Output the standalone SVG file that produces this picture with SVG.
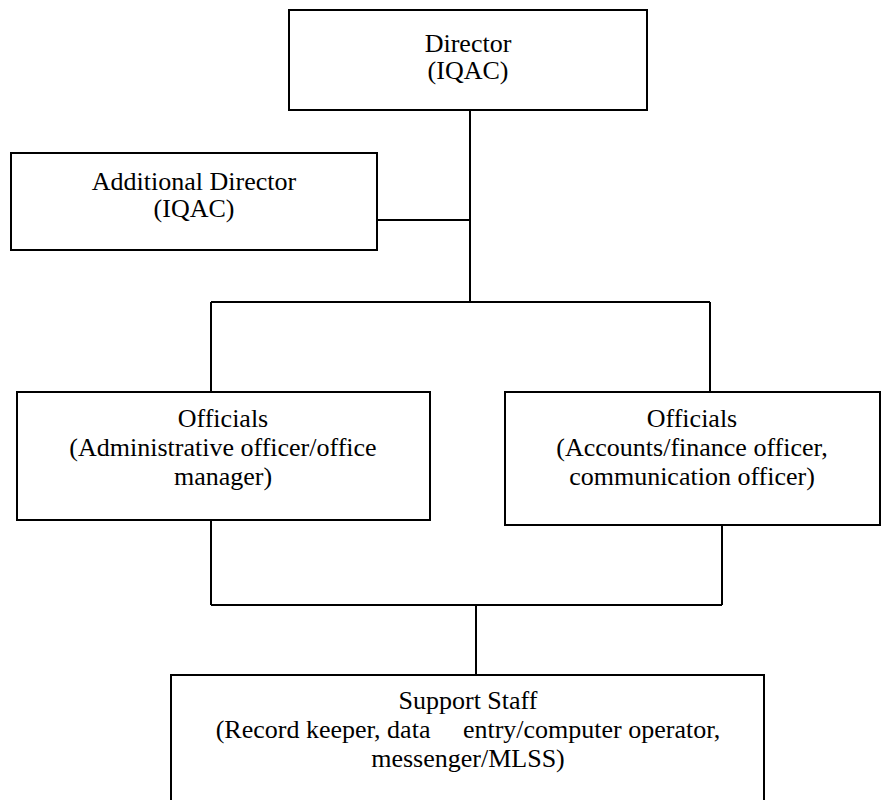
<svg xmlns="http://www.w3.org/2000/svg" width="891" height="800" viewBox="0 0 891 800">
<style>
.box{fill:#fff;stroke:#000;stroke-width:2}
.t{font-family:'Liberation Serif','Times New Roman',serif;font-size:26px;fill:#000;text-anchor:middle;white-space:pre}
.c{fill:none;stroke:#000;stroke-width:2}
</style>
<rect width="891" height="800" fill="#fff"/>
<g id="connectors">
<path class="c" d="M470 110V302M377 220H470M211 302H710M211 302V392M710 302V392"/>
<path class="c" d="M211 520V605M722 525V605M211 605H722M476 605V675"/>
</g>
<g id="director">
<rect class="box" x="289" y="10" width="358" height="100"/>
<text class="t" x="468" y="52">Director</text>
<text class="t" x="468" y="79">(IQAC)</text>
</g>
<g id="additional-director">
<rect class="box" x="11" y="153" width="366" height="97"/>
<text class="t" x="194" y="190">Additional Director</text>
<text class="t" x="194" y="217">(IQAC)</text>
</g>
<g id="officials-admin">
<rect class="box" x="17" y="392" width="413" height="128"/>
<text class="t" x="223" y="427">Officials</text>
<text class="t" x="223" y="456">(Administrative officer/office</text>
<text class="t" x="223" y="485">manager)</text>
</g>
<g id="officials-accounts">
<rect class="box" x="505" y="392" width="375" height="133"/>
<text class="t" x="692" y="427">Officials</text>
<text class="t" x="692" y="456">(Accounts/finance officer,</text>
<text class="t" x="692" y="485">communication officer)</text>
</g>
<g id="support-staff">
<rect class="box" x="171" y="675" width="593" height="140"/>
<text class="t" x="468" y="709">Support Staff</text>
<text class="t" x="468" y="738">(Record keeper, data     entry/computer operator,</text>
<text class="t" x="468" y="767">messenger/MLSS)</text>
</g>
</svg>
